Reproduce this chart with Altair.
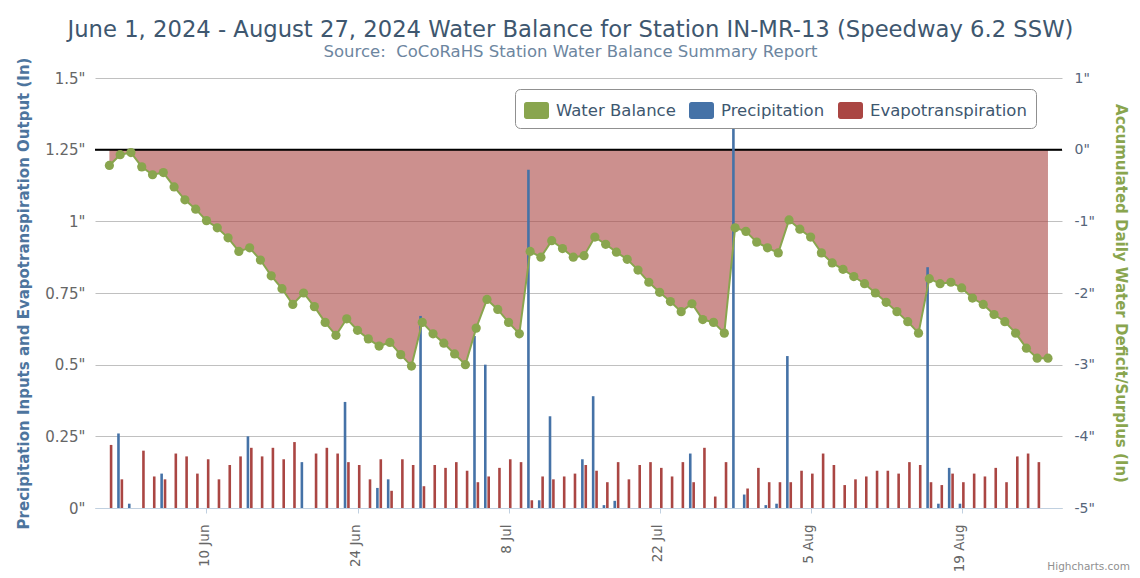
import altair as alt
import pandas as pd

FONT = "DejaVu Sans"

# ---- data ----
dates = [d.strftime("%Y-%m-%d") for d in pd.date_range("2024-06-01", "2024-08-27", freq="D")]

precipitation = [
    0, 0.26, 0.015, 0, 0, 0.12, 0, 0, 0, 0,
    0, 0, 0, 0.25, 0, 0, 0, 0, 0.16, 0,
    0, 0, 0.37, 0, 0, 0.07, 0.10, 0, 0, 0.67,
    0, 0, 0, 0, 0.60, 0.50, 0, 0, 0, 1.18,
    0.027, 0.32, 0, 0, 0.17, 0.39, 0.01, 0.025, 0, 0,
    0, 0, 0, 0, 0.19, 0, 0, 0, 1.45, 0.047,
    0, 0.01, 0.015, 0.53, 0, 0, 0, 0, 0, 0,
    0, 0, 0, 0, 0, 0, 0.84, 0.015, 0.14, 0.015,
    0, 0, 0, 0, 0, 0, 0, 0,
]

evapotranspiration = [
    0.22, 0.10, 0, 0.20, 0.11, 0.10, 0.19, 0.18, 0.12, 0.17,
    0.10, 0.15, 0.18, 0.21, 0.18, 0.21, 0.17, 0.23, 0, 0.19,
    0.21, 0.19, 0.16, 0.15, 0.10, 0.17, 0.06, 0.17, 0.15, 0.076,
    0.15, 0.14, 0.16, 0.13, 0.09, 0.11, 0.14, 0.17, 0.16, 0.027,
    0.11, 0.10, 0.11, 0.12, 0.15, 0.13, 0.09, 0.16, 0.10, 0.15,
    0.16, 0.14, 0.11, 0.16, 0.09, 0.21, 0.04, 0.16, 0, 0.068,
    0.14, 0.09, 0.09, 0.09, 0.13, 0.12, 0.19, 0.15, 0.08, 0.10,
    0.11, 0.13, 0.13, 0.12, 0.16, 0.15, 0.09, 0.08, 0.12, 0.09,
    0.12, 0.11, 0.14, 0.09, 0.18, 0.19, 0.16, 0,
]

water_balance = [
    -0.22, -0.07, -0.04, -0.24, -0.35, -0.32, -0.52, -0.70, -0.83, -0.99,
    -1.09, -1.23, -1.42, -1.37, -1.54, -1.76, -1.94, -2.16, -2.00, -2.19,
    -2.41, -2.59, -2.36, -2.52, -2.64, -2.74, -2.69, -2.86, -3.02, -2.41,
    -2.57, -2.70, -2.85, -3.00, -2.49, -2.09, -2.23, -2.41, -2.57, -1.42,
    -1.50, -1.27, -1.38, -1.50, -1.48, -1.22, -1.32, -1.43, -1.53, -1.68,
    -1.85, -1.99, -2.12, -2.26, -2.15, -2.37, -2.41, -2.56, -1.09, -1.14,
    -1.29, -1.37, -1.44, -0.98, -1.11, -1.22, -1.44, -1.58, -1.67, -1.77,
    -1.87, -2.00, -2.13, -2.26, -2.40, -2.56, -1.80, -1.87, -1.85, -1.93,
    -2.07, -2.16, -2.30, -2.40, -2.56, -2.77, -2.91, -2.91,
]

series_names = ["Water Balance", "Precipitation", "Evapotranspiration"]
series_colors = ["#89A54E", "#4572A7", "#AA4643"]

x_tick_dates = ["2024-06-10", "2024-06-24", "2024-07-08", "2024-07-22", "2024-08-05", "2024-08-19"]
left_ticks = [0, 0.25, 0.5, 0.75, 1, 1.25, 1.5]
right_ticks = [-5, -4, -3, -2, -1, 0, 1]
credit_text = ["Highcharts.com"]

df = pd.DataFrame({
    "date": dates,
    "precip": precipitation,
    "et": evapotranspiration,
    "balance": water_balance,
})


def dt(s, hours=0, minutes=0):
    y, m, d = (int(v) for v in s.split("-"))
    return alt.DateTime(year=y, month=m, date=d, hours=hours, minutes=minutes, utc=True)


x_enc = alt.X(
    "date:T",
    scale=alt.Scale(type="utc", domain=[dt("2024-05-30", 16), dt("2024-08-28", 7, 12)],
                    nice=False, padding=0),
    axis=alt.Axis(
        title=None,
        values=[dt(s) for s in x_tick_dates],
        labelExpr="utcFormat(datum.value, '%-d %b')",
        labelAngle=-90,
        labelFont=FONT,
        labelFontSize=13.5,
        labelColor="#666666",
        labelPadding=11,
        labelOffset=-2,
        grid=False,
        domainColor="#C0D0E0",
        tickColor="#C0D0E0",
        tickSize=5,
    ),
)

color_scale = alt.Scale(domain=series_names, range=series_colors)
# rounded rectangle, 25 x 17 px once scaled by the symbol size
SYMBOL = ("M-0.8,-0.68H0.8A0.2,0.2,0,0,1,1,-0.48V0.48A0.2,0.2,0,0,1,0.8,0.68"
          "H-0.8A0.2,0.2,0,0,1,-1,0.48V-0.48A0.2,0.2,0,0,1,-0.8,-0.68Z")
legend = alt.Legend(
    title=None, orient="none", legendX=420, legendY=11, direction="horizontal", columns=3,
    fillColor="white", strokeColor="#909090", cornerRadius=5, padding=9,
    labelFont=FONT, labelFontSize=16.5, labelColor="#3E576F", labelOffset=7,
    symbolType=SYMBOL, symbolSize=625, symbolStrokeWidth=0, symbolOpacity=1,
    columnPadding=13, zindex=1,
)


def y_left(field):
    return alt.Y(
        f"{field}:Q",
        scale=alt.Scale(domain=[0, 1.5], nice=False, zero=True),
        axis=alt.Axis(
            orient="left",
            values=left_ticks,
            labelExpr="datum.value + '\"'",
            grid=True, gridColor="#C0C0C0", domain=False, ticks=False,
            labelPadding=10, labelFont=FONT, labelFontSize=15, labelColor="#666666",
            title="Precipitation Inputs and Evapotranspiration Output (In)",
            titleFont=FONT, titleFontSize=15, titleFontWeight="bold", titleColor="#4D759E",
            titleAngle=-90, titleX=-72, titleY=215, titleAlign="center", titleBaseline="middle",
        ),
    )


right_scale = alt.Scale(domain=[-5, 1], nice=False, zero=False)
single_row = alt.InlineData(values=[{"label": credit_text[0], "zero": 0}])

area = alt.Chart().mark_area(color="#AA4643", opacity=0.6).encode(
    x=x_enc,
    y=alt.Y(
        "balance:Q",
        scale=right_scale,
        axis=alt.Axis(
            orient="right", values=right_ticks, labelExpr="datum.value + '\"'",
            grid=False, domain=False, ticks=False,
            labelPadding=12, labelFont=FONT, labelFontSize=14, labelColor="#56657A",
            title="Accumulated Daily Water Deficit/Surplus (In)",
            titleFont=FONT, titleFontSize=15, titleFontWeight="bold", titleColor="#89A54E",
            titleAngle=90, titleX=58, titleY=215, titleAlign="center", titleBaseline="middle",
        ),
    ),
    y2=alt.datum(0),
)
zero_rule = alt.Chart(single_row).mark_rule(color="black", strokeWidth=2).encode(
    y=alt.Y("zero:Q", scale=right_scale)
)
back = alt.layer(area, zero_rule)

p_bars = alt.Chart().transform_calculate(series="'Precipitation'").mark_bar(
    width=2.6, xOffset=-1.7
).encode(
    x=x_enc, y=y_left("precip"),
    color=alt.Color("series:N", scale=color_scale, legend=legend),
)
e_bars = alt.Chart().transform_calculate(series="'Evapotranspiration'").mark_bar(
    width=2.6, xOffset=1.7
).encode(
    x=x_enc, y=y_left("et"),
    color=alt.Color("series:N", scale=color_scale, legend=legend),
)
bars = alt.layer(p_bars, e_bars)

line = alt.Chart().mark_line(
    color="#89A54E", strokeWidth=2,
    point=alt.OverlayMarkDef(filled=True, size=85, color="#89A54E", opacity=1),
).encode(
    x=x_enc,
    y=alt.Y("balance:Q", scale=right_scale, axis=None),
)

credit = alt.Chart(single_row).mark_text(
    align="right", baseline="alphabetic",
    font=FONT, fontSize=10.5, color="#909090",
).encode(text="label:N", x=alt.value(1035), y=alt.value(492))

chart = alt.layer(back, bars, line, credit, data=df).resolve_scale(
    y="independent"
).properties(
    width=967,
    height=430,
    autosize=alt.AutoSizeParams(type="none"),
    padding={"left": 87, "top": 70, "right": 70, "bottom": 70},
    title=alt.TitleParams(
        text="June 1, 2024 - August 27, 2024 Water Balance for Station IN-MR-13 (Speedway 6.2 SSW)",
        subtitle="Source:\u00a0 CoCoRaHS Station Water Balance Summary Report",
        font=FONT, fontSize=22.7, fontWeight="normal", color="#3E576F",
        subtitleFont=FONT, subtitleFontSize=16.5, subtitleColor="#6D869F", subtitlePadding=2,
        anchor="middle", frame="group", offset=-3, dx=-8,
    ),
).configure_view(stroke=None)

chart.save("out.html", embed_options={"renderer": "svg", "actions": False})
